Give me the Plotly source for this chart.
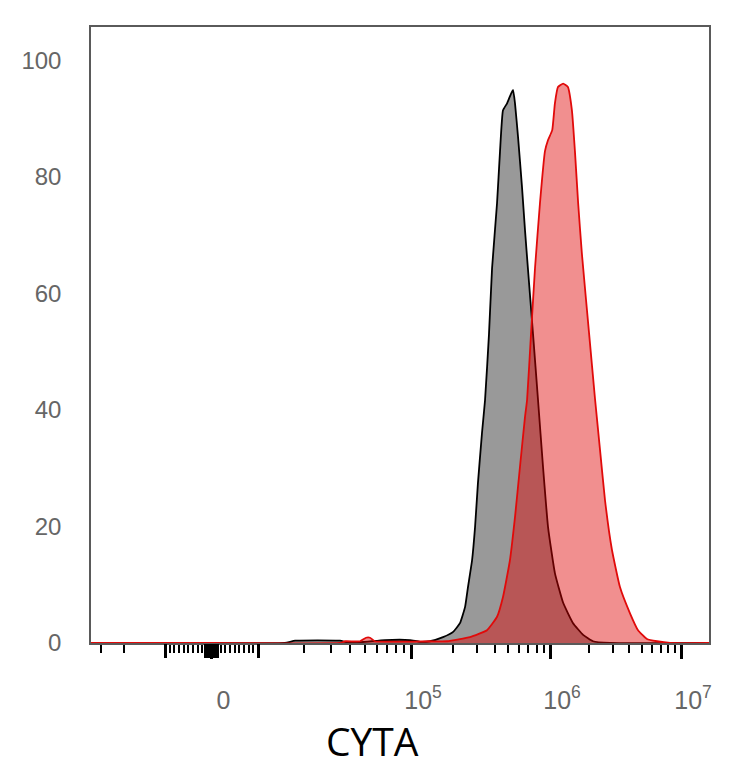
import numpy as np
import plotly.graph_objects as go

# ---- data (fluorescence intensity, % of max) ----
GRAY_X = [-3.6e4, 0, 1.5e4, 1.75e4, 3.43e4, 3.99e4, 6.76e4, 9.84e4, 1.16e5, 1.37e5,
          1.70e5, 2.01e5, 2.25e5, 2.45e5, 2.57e5, 2.75e5, 2.89e5, 3.03e5, 3.24e5, 3.41e5,
          3.64e5, 3.83e5, 4.16e5, 4.37e5, 4.59e5, 4.91e5, 5.15e5, 5.42e5, 5.60e5, 5.89e5,
          6.29e5, 6.61e5, 6.95e5, 7.55e5, 8.20e5, 8.91e5, 9.68e5, 1.09e6, 1.26e6, 1.50e6,
          1.79e6, 2.13e6, 2.87e6, 1.7e7]
GRAY_Y = [0, 0, 0, 0.4, 0.4, 0, 0.5, 0.5, 0.2, 0.3,
          1.0, 1.9, 3.4, 6.2, 9.6, 14.2, 19.9, 27.4, 36, 41.7,
          53, 64.3, 75.5, 84.4, 91.4, 92.6, 93.8, 94.9, 92.6, 86.8,
          78.2, 70.8, 64, 53, 41.7, 30.2, 19.9, 12, 6.9, 3.4,
          1.4, 0.3, 0, 0]

RED_X = [-3.6e4, 0, 3.43e4, 3.71e4, 4.64e4, 5.08e4, 5.40e4, 5.82e4, 1.37e5, 1.82e5,
         2.66e5, 3.52e5, 4.16e5, 4.59e5, 5.15e5, 5.60e5, 6.08e5, 6.61e5, 6.84e5, 7.30e5,
         7.80e5, 8.47e5, 9.20e5, 9.68e5, 1.04e6, 1.09e6, 1.15e6, 1.26e6, 1.37e6, 1.47e6,
         1.55e6, 1.64e6, 1.75e6, 1.99e6, 2.21e6, 2.41e6, 2.63e6, 2.97e6, 3.42e6, 4.08e6,
         4.70e6, 5.50e6, 6.56e6, 8.24e6, 1.7e7]
RED_Y = [0, 0, 0, 0.3, 0.3, 0.9, 0.9, 0.3, 0.3, 0.3,
         1.0, 2.2, 4.5, 7.9, 14.2, 21.6, 30.2, 38.8, 41.7, 53,
         64.3, 75.5, 84.4, 86.3, 88, 92.6, 95.4, 96, 95.4, 91.4,
         84.4, 75.5, 66.9, 53, 41.7, 33.1, 24.5, 16, 9.6, 5.1,
         2.2, 0.7, 0.3, 0, 0]

X_TITLE = "CYTA"
LABELED_TICKS = [0, 1e5, 1e6, 1e7]
LABELED_TEXT = ["0", "10<sup>5</sup>", "10<sup>6</sup>", "10<sup>7</sup>"]
UNLABELED_MAJOR = [-1e4, 1e4]
Y_TICKS = [0, 20, 40, 60, 80, 100]

# ---- biexponential-like display scale (linear near zero, log beyond) ----
LIN_LIMIT = 1e4
ZERO_POS = 120.5
LIN_HALF = 46.5
POS_DECADES = [4, 5, 6, 7]
POS_DECADE_POS = [167, 320, 459, 590]
LAST_DECADE = 131
NEG_DECADE = 135
AXIS_SPAN = 618


def scale(v):
    v = np.asarray(v, dtype=float)
    out = np.empty_like(v)
    lin = np.abs(v) < LIN_LIMIT
    out[lin] = ZERO_POS + v[lin] / LIN_LIMIT * LIN_HALF
    pos = v >= LIN_LIMIT
    lg = np.log10(v[pos])
    out[pos] = np.where(lg <= POS_DECADES[-1],
                        np.interp(lg, POS_DECADES, POS_DECADE_POS),
                        POS_DECADE_POS[-1] + (lg - POS_DECADES[-1]) * LAST_DECADE)
    neg = v <= -LIN_LIMIT
    out[neg] = ZERO_POS - LIN_HALF - (np.log10(-v[neg]) - 4) * NEG_DECADE
    return out


# long unlabelled ticks: +-1e4 and a dense block around zero
block = [b for b in range(-1200, 1201, 200) if b != 0]
long_unlabelled = UNLABELED_MAJOR + block

minor_vals = [-3e4, -2e4]
minor_vals += [-k * 1000 for k in range(2, 10)] + [k * 1000 for k in range(2, 10)]
for dec in (1e4, 1e5, 1e6):
    minor_vals += [k * dec for k in range(2, 10)]

fig = go.Figure()
fig.add_trace(go.Scatter(
    x=scale(GRAY_X), y=GRAY_Y, mode="lines", fill="tozeroy",
    fillcolor="rgba(0,0,0,0.40)",
    line=dict(color="black", width=1.8, shape="spline", smoothing=0.4),
    hoverinfo="skip"))
fig.add_trace(go.Scatter(
    x=scale(RED_X), y=RED_Y, mode="lines", fill="tozeroy",
    fillcolor="rgba(222,0,0,0.44)",
    line=dict(color="rgb(225,10,10)", width=1.8, shape="spline", smoothing=0.4),
    hoverinfo="skip"))
# empty trace that carries the overlay axis for the unlabelled long ticks
fig.add_trace(go.Scatter(x=[], y=[], xaxis="x2", mode="lines", hoverinfo="skip", showlegend=False))

# the page body has an 8px default margin, so the figure is 8px smaller than the window
fig.update_layout(
    width=726, height=760,
    margin=dict(l=83, r=25, t=19, b=125),
    plot_bgcolor="white", paper_bgcolor="white",
    showlegend=False,
    xaxis2=dict(
        overlaying="x", matches="x", anchor="y", side="bottom",
        range=[0, AXIS_SPAN], showgrid=False, zeroline=False, showline=False,
        tickmode="array", tickvals=scale(long_unlabelled).tolist(),
        ticks="outside", ticklen=14, tickwidth=2.5, tickcolor="black",
        showticklabels=False,
    ),
    annotations=[dict(
        text=X_TITLE, xref="paper", yref="paper", x=0.455, y=-0.159,
        xanchor="center", yanchor="middle", showarrow=False,
        font=dict(family="Open Sans, sans-serif", size=39, color="black"),
    )],
)
fig.layout.xaxis.update(
    range=[0, AXIS_SPAN], showgrid=False, zeroline=False,
    showline=True, mirror=True, linecolor="#5a5a5a", linewidth=1.5,
    layer="below traces",
    tickmode="array", tickvals=scale(LABELED_TICKS).tolist(), ticktext=LABELED_TEXT,
    ticks="outside", ticklen=14, tickwidth=2.5, tickcolor="black",
    minor=dict(tickmode="array", tickvals=scale(minor_vals).tolist(), ticks="outside",
               ticklen=8, tickwidth=1.5, tickcolor="black"),
    tickfont=dict(family="Liberation Sans, Arial, sans-serif", size=25, color="#666666"),
    ticklabelshift=12, ticklabelstandoff=20,
)
fig.layout.yaxis.update(
    range=[0, 105.7], showgrid=False, zeroline=False,
    showline=True, mirror=True, linecolor="#5a5a5a", linewidth=1.5,
    tickmode="array", tickvals=Y_TICKS, ticks="",
    tickfont=dict(family="Liberation Sans, Arial, sans-serif", size=24, color="#666666"),
    ticklabelstandoff=23,
)

fig.write_html("out.html")
